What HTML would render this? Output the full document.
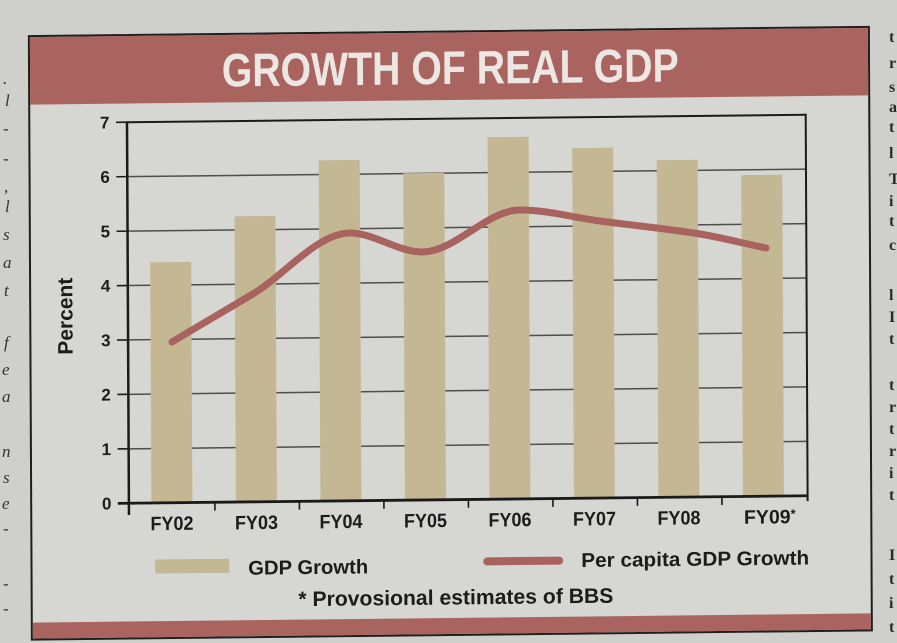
<!DOCTYPE html>
<html>
<head>
<meta charset="utf-8">
<style>
  html, body { margin: 0; padding: 0; background: #cfcfcc; }
  body { width: 897px; height: 643px; overflow: hidden; }
  svg { display: block; }
  .b { font-family: "Liberation Sans Narrow", "Liberation Sans", sans-serif; font-weight: bold; fill: #1c1c1c; }
  .np { font-family: "Liberation Serif", serif; font-style: italic; fill: #333; font-size: 17px; }
  .npr { font-family: "Liberation Serif", serif; fill: #2a2a2a; font-size: 16px; font-weight: bold; }
</style>
</head>
<body>
<svg width="897" height="643" viewBox="0 0 897 643" xmlns="http://www.w3.org/2000/svg">
  <rect width="897" height="643" fill="#cfcfcc"/>

  <!-- newspaper fragments left -->
  <g class="np">
    <text x="3" y="84">.</text>
    <text x="5" y="106">l</text>
    <text x="3" y="134">-</text>
    <text x="3" y="164">-</text>
    <text x="4" y="192">,</text>
    <text x="5" y="212">l</text>
    <text x="3" y="240">s</text>
    <text x="3" y="268">a</text>
    <text x="4" y="296">t</text>
    <text x="4" y="348">f</text>
    <text x="2" y="375">e</text>
    <text x="2" y="402">a</text>
    <text x="2" y="457">n</text>
    <text x="3" y="483">s</text>
    <text x="2" y="509">e</text>
    <text x="3" y="534">-</text>
    <text x="3" y="589">-</text>
    <text x="3" y="614">-</text>
  </g>
  <!-- newspaper fragments right -->
  <g class="npr">
    <text x="889" y="42">t</text>
    <text x="889" y="68">r</text>
    <text x="889" y="92">s</text>
    <text x="889" y="112">a</text>
    <text x="889" y="132">t</text>
    <text x="889" y="158">l</text>
    <text x="889" y="184">T</text>
    <text x="889" y="206">i</text>
    <text x="889" y="226">t</text>
    <text x="889" y="250">c</text>
    <text x="889" y="300">l</text>
    <text x="889" y="322">I</text>
    <text x="889" y="344">t</text>
    <text x="889" y="390">t</text>
    <text x="889" y="412">r</text>
    <text x="889" y="434">t</text>
    <text x="889" y="456">r</text>
    <text x="889" y="478">i</text>
    <text x="889" y="500">t</text>
    <text x="889" y="560">I</text>
    <text x="889" y="584">t</text>
    <text x="889" y="608">i</text>
    <text x="889" y="632">t</text>
  </g>

  <g transform="matrix(1,-0.011,0.005,1,-1.6,4.93)">
    <!-- outer box -->
    <rect x="30.3" y="31.5" width="840" height="603.5" fill="#d6d6d3" stroke="#1e1e1e" stroke-width="2"/>
    <!-- header band -->
    <rect x="31.3" y="32.5" width="838" height="67.5" fill="#aa6460"/>
    <text x="451.5" y="84" text-anchor="middle" font-family="'Liberation Sans Narrow','Liberation Sans',sans-serif" font-weight="bold" font-size="47" fill="#ece7e3" textLength="457" lengthAdjust="spacingAndGlyphs">GROWTH OF REAL GDP</text>
    <!-- bottom band -->
    <rect x="31.3" y="618" width="838" height="16" fill="#aa6460"/>

    <!-- gridlines -->
    <g stroke="#4e4e4e" stroke-width="1.5">
      <line x1="128" y1="445.3" x2="806.7" y2="445.3"/>
      <line x1="128" y1="390.8" x2="806.7" y2="390.8"/>
      <line x1="128" y1="336.4" x2="806.7" y2="336.4"/>
      <line x1="128" y1="282.0" x2="806.7" y2="282.0"/>
      <line x1="128" y1="227.6" x2="806.7" y2="227.6"/>
      <line x1="128" y1="173.1" x2="806.7" y2="173.1"/>
    </g>

    <!-- bars -->
    <g fill="#c3b794">
      <rect x="150.5" y="259.1" width="41" height="240.6"/>
      <rect x="235" y="214" width="41" height="285.7"/>
      <rect x="319.5" y="158.9" width="41" height="340.8"/>
      <rect x="404" y="172.8" width="41" height="326.9"/>
      <rect x="488.5" y="137.7" width="41" height="362"/>
      <rect x="573" y="149.5" width="41" height="350.2"/>
      <rect x="657.5" y="162.5" width="41" height="337.2"/>
      <rect x="742" y="178.3" width="41" height="321.4"/>
    </g>

    <!-- frame -->
    <g stroke="#1a1a1a" fill="none">
      <line x1="127" y1="118.7" x2="806.7" y2="118.7" stroke-width="2"/>
      <line x1="806.7" y1="117.7" x2="806.7" y2="505" stroke-width="2"/>
      <line x1="128" y1="118" x2="128" y2="511.5" stroke-width="2.5"/>
      <line x1="117" y1="499.7" x2="807.5" y2="499.7" stroke-width="2.8"/>
    </g>
    <!-- y ticks -->
    <g stroke="#1a1a1a" stroke-width="1.6">
      <line x1="117" y1="499.7" x2="128" y2="499.7"/>
      <line x1="117" y1="445.3" x2="128" y2="445.3"/>
      <line x1="117" y1="390.8" x2="128" y2="390.8"/>
      <line x1="117" y1="336.4" x2="128" y2="336.4"/>
      <line x1="117" y1="282.0" x2="128" y2="282.0"/>
      <line x1="117" y1="227.6" x2="128" y2="227.6"/>
      <line x1="117" y1="173.1" x2="128" y2="173.1"/>
      <line x1="117" y1="118.7" x2="128" y2="118.7"/>
    </g>
    <!-- x ticks -->
    <g stroke="#1a1a1a" stroke-width="1.6">
      <line x1="214" y1="499.7" x2="214" y2="508"/>
      <line x1="298.5" y1="499.7" x2="298.5" y2="508"/>
      <line x1="383" y1="499.7" x2="383" y2="508"/>
      <line x1="467.5" y1="499.7" x2="467.5" y2="508"/>
      <line x1="552" y1="499.7" x2="552" y2="508"/>
      <line x1="636.5" y1="499.7" x2="636.5" y2="508"/>
      <line x1="721" y1="499.7" x2="721" y2="508"/>
    </g>

    <!-- y labels -->
    <g class="b" font-size="17" text-anchor="end">
      <text x="110.5" y="505.7">0</text>
      <text x="110.5" y="451.3">1</text>
      <text x="110.5" y="396.8">2</text>
      <text x="110.5" y="342.4">3</text>
      <text x="110.5" y="288.0">4</text>
      <text x="110.5" y="233.6">5</text>
      <text x="110.5" y="179.1">6</text>
      <text x="110.5" y="124.7">7</text>
    </g>
    <text class="b" font-size="21" text-anchor="middle" transform="translate(72.5,312) rotate(-90)" textLength="77" lengthAdjust="spacingAndGlyphs">Percent</text>

    <!-- x labels -->
    <g class="b" font-size="19.5" text-anchor="middle">
      <text x="171" y="527" textLength="43" lengthAdjust="spacingAndGlyphs">FY02</text>
      <text x="255.5" y="527" textLength="43" lengthAdjust="spacingAndGlyphs">FY03</text>
      <text x="340" y="527" textLength="43" lengthAdjust="spacingAndGlyphs">FY04</text>
      <text x="424.5" y="527" textLength="43" lengthAdjust="spacingAndGlyphs">FY05</text>
      <text x="509" y="527" textLength="43" lengthAdjust="spacingAndGlyphs">FY06</text>
      <text x="593.5" y="527" textLength="43" lengthAdjust="spacingAndGlyphs">FY07</text>
      <text x="678" y="527" textLength="43" lengthAdjust="spacingAndGlyphs">FY08</text>
    </g>
    <text class="b" font-size="19.5" x="743" y="527">FY09<tspan font-size="13" dy="-5">*</tspan></text>

    <!-- legend -->
    <rect x="154" y="556.3" width="74" height="14" fill="#c3b794"/>
    <text class="b" font-size="20" x="247" y="572.5" textLength="120" lengthAdjust="spacingAndGlyphs">GDP Growth</text>
    <line x1="486" y1="561.8" x2="558" y2="561.8" stroke="#a8635f" stroke-width="8" stroke-linecap="round"/>
    <text class="b" font-size="20" x="580" y="568.5" textLength="228" lengthAdjust="spacingAndGlyphs">Per capita GDP Growth</text>
    <text class="b" font-size="21" x="297" y="604.5" textLength="315" lengthAdjust="spacingAndGlyphs">* Provosional estimates of BBS</text>
  </g>

  <!-- per capita line (image coords) -->
  <path d="M172,342 C200,325 228,309 256,292 C284,275 318,233 350,233 C374,233 398,252 422,252 C455,252 487,210 520,210 C547,210 573,217.4 600,221 C633,225.4 667,228.6 700,234 C722,237.6 744,243.5 766,248"
        fill="none" stroke="#a8635f" stroke-width="7" stroke-linecap="round" stroke-linejoin="round"/>
</svg>
</body>
</html>
